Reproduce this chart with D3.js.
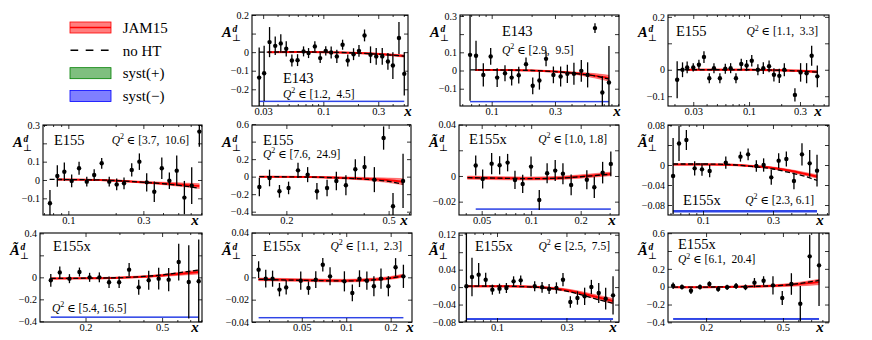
<!DOCTYPE html>
<html>
<head>
<meta charset="utf-8">
<script src="https://cdn.jsdelivr.net/npm/d3@7"></script>
<style>
body { margin: 0; background: #fff; }
svg text { font-family: "Liberation Serif", "DejaVu Serif", serif; }
</style>
</head>
<body>
<div id="chart"></div>
<script>
// chart size
var w = 872, h = 340;

// panel labels
var expNames = ["E143", "E143", "E155", "E155", "E155", "E155x", "E155x", "E155x", "E155x", "E155x", "E155x"];
var q2Ranges = ["[1.2,  4.5]", "[2.9,  9.5]", "[1.1,  3.3]", "[3.7,  10.6]", "[7.6,  24.9]", "[1.0, 1.8]",
                "[2.3, 6.1]", "[5.4, 16.5]", "[1.1,  2.3]", "[2.5,  7.5]", "[6.1,  20.4]"];
var tildeA = [false, false, false, false, false, true, true, true, true, true, true];

// axis limits and ticks
var xDomains = [[0.024, 0.544], [0.0577, 0.912], [0.0174, 0.561], [0.069, 0.708], [0.147, 0.611], [0.0364, 0.342],
                [0.0577, 0.723], [0.116, 0.806], [0.023, 0.279], [0.0548, 0.689], [0.127, 0.866]];
var yDomains = [[-0.29, 0.2], [-0.195, 0.305], [-0.137, 0.207], [-0.191, 0.3], [-0.438, 0.59], [-0.0304, 0.0397],
                [-0.1, 0.08], [-0.406, 0.403], [-0.04, 0.0397], [-0.08, 0.124], [-0.396, 0.602]];
var xTicks = [[0.03, 0.1, 0.3], [0.1, 0.3], [0.03, 0.1, 0.3], [0.1, 0.3], [0.2, 0.5], [0.05, 0.1, 0.2],
              [0.1, 0.3], [0.2, 0.5], [0.05, 0.1, 0.2], [0.1, 0.3], [0.2, 0.5]];
var yTicks = [[-0.2, -0.1, 0, 0.1, 0.2], [-0.1, 0, 0.1, 0.2, 0.3], [-0.1, 0, 0.1, 0.2], [-0.1, 0, 0.1, 0.2, 0.3],
              [-0.4, -0.2, 0, 0.2, 0.4, 0.6], [-0.02, 0, 0.02, 0.04], [-0.08, -0.04, 0, 0.04, 0.08],
              [-0.4, -0.2, 0, 0.2, 0.4], [-0.04, -0.02, 0, 0.02, 0.04], [-0.08, -0.04, 0, 0.04, 0.08, 0.12],
              [-0.4, -0.2, 0, 0.2, 0.4, 0.6]];
var yTickLabels = [["−0.2", "−0.1", "0", "", "0.2"], ["−0.1", "0", "0.1", "", "0.3"], ["−0.1", "0", "", "0.2"],
                   ["−0.1", "0", "0.1", "", "0.3"], ["−0.4", "−0.2", "0", "0.2", "", "0.6"], ["−0.02", "0", "", "0.04"],
                   ["−0.08", "−0.04", "0", "", "0.08"], ["−0.4", "−0.2", "0", "", "0.4"],
                   ["−0.04", "−0.02", "0", "", "0.04"], ["−0.08", "−0.04", "0", "0.04", "", "0.12"],
                   ["−0.4", "−0.2", "0", "0.2", "", "0.6"]];

// data points: [x, A, error]
var ptsE143a = [[0.0277,-0.137,0.162],[0.0306,-0.114,0.149],[0.0341,0.054,0.081],[0.0382,0.034,0.05],[0.0427,0.047,0.05],
  [0.0476,0.018,0.041],[0.0533,-0.045,0.032],[0.0597,-0.043,0.032],[0.0673,0.004,0.027],[0.0744,-0.005,0.027],
  [0.0844,0.031,0.027],[0.0939,-0.032,0.027],[0.105,0.007,0.025],[0.117,-0.002,0.032],[0.131,-0.023,0.036],
  [0.147,0.04,0.027],[0.163,-0.045,0.032],[0.183,-0.011,0.032],[0.204,0.007,0.032],[0.228,0.09,0.032],
  [0.257,-0.014,0.045],[0.288,-0.023,0.045],[0.325,-0.023,0.045],[0.364,-0.05,0.045],[0.402,-0.072,0.072],
  [0.454,0.076,0.086],[0.505,-0.117,0.117]];
var ptsE143b = [[0.0687,0.086,0.252],[0.0762,0.081,0.083],[0.0865,-0.024,0.064],[0.0983,0.077,0.046],[0.110,-0.039,0.052],
  [0.126,-0.015,0.044],[0.1415,-0.039,0.044],[0.160,-0.026,0.046],[0.1815,0.035,0.037],[0.204,-0.084,0.046],
  [0.229,-0.055,0.05],[0.257,0.064,0.041],[0.292,-0.024,0.046],[0.331,-0.033,0.055],[0.372,-0.018,0.05],
  [0.417,-0.018,0.06],[0.474,-0.002,0.06],[0.529,-0.024,0.069],[0.601,0.233,0.027],[0.683,-0.121,0.09],
  [0.766,-0.066,0.2]];
var ptsE155a = [[0.0212,-0.038,0.07],[0.0238,0,0.028],[0.0263,0.009,0.022],[0.03,0.009,0.016],[0.0339,0.019,0.019],
  [0.0378,0.048,0.022],[0.0424,-0.032,0.019],[0.0469,0.006,0.019],[0.0533,-0.032,0.019],[0.0599,0.004,0.019],
  [0.0672,0.006,0.019],[0.0754,-0.032,0.019],[0.0845,0.022,0.02],[0.0949,0.016,0.021],[0.106,0.034,0.022],
  [0.121,0,0.021],[0.136,0.006,0.022],[0.154,0.013,0.022],[0.171,-0.019,0.025],[0.192,-0.023,0.027],
  [0.214,0,0.025],[0.269,-0.095,0.025],[0.304,-0.01,0.035],[0.346,-0.013,0.038],[0.386,0.053,0.038],
  [0.436,-0.025,0.041]];
var ptsE155b = [[0.0764,-0.127,0.073],[0.0851,0.022,0.059],[0.0943,0.045,0.05],[0.105,-0.005,0.035],[0.117,0.064,0.036],
  [0.131,-0.009,0.027],[0.146,0.027,0.032],[0.163,0.091,0.029],[0.182,-0.009,0.027],[0.203,-0.024,0.032],
  [0.226,-0.018,0.032],[0.253,0.055,0.036],[0.283,0.10,0.045],[0.315,-0.013,0.05],[0.352,-0.064,0.056],
  [0.393,0.064,0.059],[0.439,-0.004,0.045],[0.489,0.051,0.082],[0.547,-0.096,0.091],[0.609,-0.031,0.10],
  [0.681,0.264,0.082]];
var ptsE155c = [[0.157,-0.118,0.105],[0.172,-0.015,0.095],[0.188,-0.167,0.072],[0.204,-0.129,0.072],[0.222,0.072,0.086],
  [0.242,0.023,0.086],[0.263,-0.167,0.095],[0.288,-0.129,0.095],[0.313,-0.049,0.105],[0.341,-0.099,0.114],
  [0.371,0.084,0.114],[0.403,0.11,0.124],[0.44,-0.034,0.143],[0.478,0.441,0.133],[0.52,-0.338,0.152],
  [0.569,-0.049,0.31]];
var ptsE155xa = [[0.046,0.0081,0.0078],[0.0507,-0.0023,0.0074],[0.0575,0.0096,0.0082],[0.0643,0.0083,0.0071],
  [0.0719,0.0104,0.0068],[0.0797,-0.0031,0.0071],[0.0888,-0.0062,0.0071],[0.0998,0.0073,0.0078],
  [0.112,-0.0187,0.0078],[0.125,0.0021,0.0078],[0.14,0.0042,0.0082],[0.156,0.0018,0.0082],[0.175,-0.007,0.0081],
  [0.218,-0.0029,0.0074],[0.242,-0.0088,0.0084],[0.272,0.0026,0.0084],[0.305,0.0094,0.0097]];
var ptsE155xb = [[0.0625,-0.022,0.076],[0.0686,0.043,0.035],[0.077,0.05,0.02],[0.0877,-0.0067,0.0143],
  [0.0984,-0.0087,0.0127],[0.111,-0.012,0.0123],[0.143,0.0047,0.0123],[0.18,0.0167,0.01],[0.203,0.0213,0.0117],
  [0.231,-0.002,0.0117],[0.259,0,0.0133],[0.292,-0.0247,0.015],[0.328,0.0087,0.015],[0.37,0.012,0.015],
  [0.417,-0.032,0.0167],[0.473,0.0213,0.0223],[0.534,0.0033,0.0267],[0.599,-0.0113,0.0317]];
var ptsE155xc = [[0.132,-0.027,0.058],[0.147,0.045,0.053],[0.165,-0.012,0.041],[0.186,0.048,0.041],[0.21,0,0.041],
  [0.236,0,0.045],[0.265,-0.045,0.053],[0.299,-0.045,0.053],[0.337,0.07,0.061],[0.378,-0.091,0.068],
  [0.426,-0.027,0.086],[0.48,-0.012,0.098],[0.541,-0.021,0.106],[0.61,0.139,0.167],[0.688,-0.042,0.333],
  [0.775,-0.036,0.379]];
var ptsE155xd = [[0.0255,0.0069,0.0075],[0.0285,-0.0012,0.0079],[0.0317,-0.0012,0.0072],[0.0353,-0.011,0.006],
  [0.0392,-0.009,0.0063],[0.0492,-0.003,0.0082],[0.0555,-0.0096,0.006],[0.0622,-0.0021,0.0075],[0.0694,0.0113,0.006],
  [0.0777,0.0009,0.0081],[0.0972,-0.0036,0.009],[0.11,-0.014,0.0075],[0.123,-0.0012,0.0075],[0.138,-0.003,0.0082],
  [0.154,-0.008,0.009],[0.172,-0.0012,0.009],[0.193,-0.008,0.009],[0.216,0.009,0.0082],[0.244,0.0009,0.0104]];
var ptsE155xe = [[0.0616,0.002,0.25],[0.0673,0.0232,0.044],[0.0748,0.0285,0.0268],[0.0836,0.017,0.016],
  [0.0929,-0.0059,0.0115],[0.104,-0.0036,0.0115],[0.116,-0.0021,0.0115],[0.13,0.0132,0.0115],[0.1455,0.0155,0.011],
  [0.1815,0.0018,0.0115],[0.204,-0.0005,0.0122],[0.228,-0.0044,0.0115],[0.256,-0.0021,0.013],[0.284,0.017,0.0153],
  [0.319,-0.0342,0.0134],[0.357,-0.025,0.0153],[0.4,-0.0212,0.0199],[0.445,0.0002,0.0164],[0.5,-0.0135,0.0229],
  [0.558,-0.0265,0.0248],[0.627,-0.0189,0.044]];
var ptsE155xf = [[0.135,0.011,0.037],[0.15,-0.004,0.028],[0.167,-0.045,0.037],[0.186,-0.004,0.028],[0.208,0.03,0.03],
  [0.231,-0.026,0.03],[0.257,-0.007,0.03],[0.286,0.007,0.034],[0.32,-0.007,0.032],[0.356,0.045,0.052],
  [0.397,0.067,0.05],[0.444,0.015,0.103],[0.496,-0.127,0.079],[0.553,0.03,0.121],[0.615,-0.191,0.2],
  [0.688,0.34,0.243],[0.769,0.239,0.456]];
var points = [ptsE143a, ptsE143b, ptsE155a, ptsE155b, ptsE155c, ptsE155xa, ptsE155xb, ptsE155xc, ptsE155xd, ptsE155xe, ptsE155xf];

// JAM15 fit: [x, central, half width]
var thJam = [
  [[0.033,0,0.002],[0.06,0.001,0.002],[0.1,0,0.002],[0.2,-0.005,0.003],[0.3,-0.01,0.004],[0.505,-0.021,0.006]],
  [[0.075,0.003,0.002],[0.1,0.003,0.002],[0.2,0,0.003],[0.3,-0.006,0.004],[0.45,-0.017,0.007],[0.6,-0.029,0.012],[0.766,-0.042,0.016]],
  [[0.026,0,0.002],[0.05,0,0.002],[0.1,0,0.002],[0.2,-0.002,0.003],[0.3,-0.004,0.003],[0.436,-0.008,0.004]],
  [[0.085,0.003,0.002],[0.16,0,0.003],[0.26,-0.009,0.004],[0.42,-0.02,0.007],[0.55,-0.027,0.01],[0.68,-0.033,0.013]],
  [[0.157,0,0.003],[0.25,-0.004,0.006],[0.31,-0.011,0.01],[0.41,-0.025,0.016],[0.5,-0.042,0.026],[0.569,-0.058,0.035]],
  [[0.041,-0.0013,0.0012],[0.07,-0.0018,0.0012],[0.1,-0.002,0.0012],[0.15,-0.0015,0.0012],[0.2,-0.0004,0.0013],[0.305,0.0016,0.0014]],
  [[0.0625,0.001,0.0012],[0.1,0.0012,0.0012],[0.15,0.0005,0.0015],[0.2,-0.0015,0.0015],[0.3,-0.006,0.002],[0.4,-0.012,0.0025],[0.5,-0.018,0.003],[0.6,-0.023,0.0035]],
  [[0.132,-0.01,0.005],[0.2,-0.008,0.005],[0.3,-0.003,0.006],[0.4,0.006,0.008],[0.5,0.017,0.01],[0.6,0.03,0.013],[0.775,0.048,0.018]],
  [[0.0255,-0.0018,0.0012],[0.05,-0.0025,0.0012],[0.1,-0.003,0.0012],[0.15,-0.002,0.0012],[0.2,-0.0005,0.0013],[0.244,0.0015,0.0014]],
  [[0.062,0.002,0.0015],[0.1,0.002,0.0015],[0.15,0.0012,0.0018],[0.2,-0.0005,0.002],[0.3,-0.007,0.003],[0.4,-0.016,0.004],[0.5,-0.024,0.005],[0.627,-0.032,0.006]],
  [[0.135,-0.006,0.005],[0.2,-0.005,0.005],[0.3,0,0.007],[0.4,0.006,0.01],[0.5,0.015,0.014],[0.6,0.028,0.02],[0.77,0.052,0.03]]
];
// no higher twist curves: [x, value]
var thNoHT = [
  [[0.0277,0],[0.06,0.001],[0.1,0],[0.2,-0.005],[0.3,-0.011],[0.505,-0.021]],
  [[0.069,0.003],[0.1,0.003],[0.2,0],[0.3,-0.006],[0.45,-0.018],[0.6,-0.03],[0.766,-0.047]],
  [[0.0212,0],[0.05,0],[0.1,0],[0.2,-0.002],[0.3,-0.005],[0.436,-0.009]],
  [[0.076,0.003],[0.16,0],[0.26,-0.009],[0.42,-0.022],[0.55,-0.033],[0.68,-0.045]],
  [[0.157,0],[0.25,-0.005],[0.31,-0.013],[0.41,-0.03],[0.5,-0.055],[0.569,-0.085]],
  [[0.041,-0.0013],[0.07,-0.0018],[0.1,-0.0021],[0.15,-0.0017],[0.2,-0.0006],[0.305,0.0014]],
  [[0.0625,0.002],[0.1,0.002],[0.15,0.001],[0.2,-0.002],[0.3,-0.008],[0.4,-0.016],[0.5,-0.023],[0.6,-0.031]],
  [[0.132,-0.01],[0.2,-0.008],[0.3,-0.003],[0.4,0.008],[0.5,0.022],[0.6,0.04],[0.775,0.066]],
  [[0.0255,-0.0018],[0.05,-0.0027],[0.1,-0.0032],[0.15,-0.0024],[0.2,-0.0006],[0.244,0.0012]],
  [[0.062,0.0022],[0.1,0.0022],[0.15,0.001],[0.2,-0.001],[0.3,-0.009],[0.4,-0.02],[0.5,-0.029],[0.627,-0.037]],
  [[0.135,-0.006],[0.3,0],[0.5,0.016],[0.6,0.035],[0.77,0.07]]
];
// syst(-) band level and height
var systY = [-0.261, -0.167, null, null, null, -0.0252, -0.09, -0.355, -0.0355, -0.0709, -0.351];
var systH = [0.008, 0.008, 0, 0, 0, 0.0012, 0.005, 0.014, 0.0013, 0.0045, 0.022];

// layout: frame [left, top, right, bottom] in px
var frames = [[252,15,408,106],[460,15,619,106],[668,15,829,106],
  [43,125,202,215],[252,125,411,215],[459,125,619,215],[668,125,829,215],
  [40,233,202,322],[252,233,412,322],[459,233,619,322],[668,233,829,322]];
// experiment label [x, y], Q2 label [x, y, anchor]
var expPos = [[283,83],[502,36],[676,36],[54,144.5],[263,144.5],[469,143.5],[683,204.5],[53,250.5],[263,250.5],[475,250.5],[678,249]];
var q2Pos = [[283,97.5,"start"],[502,53.5,"start"],[818,35,"end"],[189,143.5,"end"],[263,157.5,"start"],[607,142.5,"end"],
  [814,203.5,"end"],[52,311.5,"start"],[402,249.5,"end"],[610,249.5,"end"],[678,263,"start"]];
var xlabOff = [0, -2, -11, -7, -7, -7, -9, -7, -2, -6, -9];

var svg = d3.select("#chart").append("svg")
  .attr("width", w)
  .attr("height", h);

function fmtTicks(axisG, size) {
  axisG.select(".domain").remove();
  axisG.attr("font-family", null).attr("font-size", null);
  axisG.selectAll("text").attr("font-size", size).attr("fill", "#000");
  axisG.selectAll("line").attr("stroke", "#000").attr("stroke-width", 0.8);
}

points.forEach(function(pts, i) {
  var f = frames[i];
  var x = d3.scaleLog().domain(xDomains[i]).range([f[0], f[2]]);
  var y = d3.scaleLinear().domain(yDomains[i]).range([f[3], f[1]]);
  var g = svg.append("g");

  svg.append("clipPath").attr("id", "clip" + i)
    .append("rect")
    .attr("x", f[0]).attr("y", f[1])
    .attr("width", f[2] - f[0]).attr("height", f[3] - f[1]);
  var inner = g.append("g").attr("clip-path", "url(#clip" + i + ")");

  // syst(-) band
  if (systY[i] !== null) {
    inner.append("rect")
      .attr("x", x(pts[0][0]))
      .attr("width", x(pts[pts.length - 1][0]) - x(pts[0][0]))
      .attr("y", y(systY[i]))
      .attr("height", Math.max(1.2, y(systY[i] - systH[i]) - y(systY[i])))
      .attr("fill", "#2f45e6");
  }

  // JAM15 band
  var area = d3.area()
    .x(function(d) { return x(d[0]); })
    .y0(function(d) { return y(d[1] - d[2]); })
    .y1(function(d) { return y(d[1] + d[2]); })
    .curve(d3.curveMonotoneX);
  var mid = d3.line()
    .x(function(d) { return x(d[0]); })
    .y(function(d) { return y(d[1]); })
    .curve(d3.curveMonotoneX);
  inner.append("path").datum(thJam[i]).attr("d", area)
    .attr("fill", "#ff0000").attr("fill-opacity", 0.5)
    .attr("stroke", "#ff0000").attr("stroke-opacity", 0.6).attr("stroke-width", 0.6);
  inner.append("path").datum(thJam[i]).attr("d", mid)
    .attr("fill", "none").attr("stroke", "#ff0000").attr("stroke-width", 2);
  inner.append("path").datum(thNoHT[i]).attr("d", mid)
    .attr("fill", "none").attr("stroke", "#000").attr("stroke-width", 1.3)
    .attr("stroke-dasharray", "5,2.5");

  // data with error bars
  inner.selectAll("line.err").data(pts).join("line")
    .attr("class", "err")
    .attr("x1", function(d) { return x(d[0]); })
    .attr("x2", function(d) { return x(d[0]); })
    .attr("y1", function(d) { return y(d[1] - d[2]); })
    .attr("y2", function(d) { return y(d[1] + d[2]); })
    .attr("stroke", "#000").attr("stroke-width", 1.3);
  inner.selectAll("circle").data(pts).join("circle")
    .attr("cx", function(d) { return x(d[0]); })
    .attr("cy", function(d) { return y(d[1]); })
    .attr("r", 2.2)
    .attr("fill", "#000");

  // minor log ticks
  var minor = [];
  var lo = Math.floor(Math.log10(xDomains[i][0])), hi = Math.ceil(Math.log10(xDomains[i][1]));
  for (var e = lo; e < hi; e++) {
    for (var m = 1; m < 10; m++) {
      var v = m * Math.pow(10, e);
      var isMajor = xTicks[i].some(function(t) { return Math.abs(t - v) < 1e-9; });
      if (v > xDomains[i][0] && v < xDomains[i][1] && !isMajor) minor.push(v);
    }
  }

  var yt = yTicks[i], ytl = yTickLabels[i];
  var bot = g.append("g").attr("transform", "translate(0," + f[3] + ")")
    .call(d3.axisBottom(x).tickValues(xTicks[i]).tickFormat(function(d) { return String(d); })
      .tickSizeInner(-4).tickSizeOuter(0).tickPadding(2));
  fmtTicks(bot, 10.5);
  var top = g.append("g").attr("transform", "translate(0," + f[1] + ")")
    .call(d3.axisTop(x).tickValues(xTicks[i]).tickFormat("").tickSizeInner(-4).tickSizeOuter(0));
  fmtTicks(top, 10);
  [f[3], f[1]].forEach(function(yy, k) {
    var mg = g.append("g").attr("transform", "translate(0," + yy + ")")
      .call((k === 0 ? d3.axisBottom(x) : d3.axisTop(x)).tickValues(minor).tickFormat("").tickSizeInner(-2).tickSizeOuter(0));
    fmtTicks(mg, 10);
  });
  var left = g.append("g").attr("transform", "translate(" + f[0] + ",0)")
    .call(d3.axisLeft(y).tickValues(yt).tickFormat(function(d, k) { return ytl[k]; })
      .tickSizeInner(-4).tickSizeOuter(0).tickPadding(3));
  fmtTicks(left, 10);
  var right = g.append("g").attr("transform", "translate(" + f[2] + ",0)")
    .call(d3.axisRight(y).tickValues(yt).tickFormat("").tickSizeInner(-4).tickSizeOuter(0));
  fmtTicks(right, 10);

  // frame
  g.append("rect")
    .attr("x", f[0]).attr("y", f[1])
    .attr("width", f[2] - f[0]).attr("height", f[3] - f[1])
    .attr("fill", "none").attr("stroke", "#000").attr("stroke-width", 1.1);

  // y label  A^d_perp
  var lx = f[0] - 30, ly = f[1] + 22;
  g.append("text").attr("x", lx).attr("y", ly)
    .attr("font-size", 14.5).attr("font-weight", "bold").attr("font-style", "italic")
    .text(tildeA[i] ? "\u00C3" : "A");
  g.append("text").attr("x", lx + 10.5).attr("y", ly - 5.5)
    .attr("font-size", 9.5).attr("font-weight", "bold").attr("font-style", "italic")
    .text("d");
  g.append("text").attr("x", lx + 10).attr("y", ly + 4)
    .attr("font-size", 9.5)
    .text("\u22A5");

  // x label
  g.append("text")
    .attr("x", f[2] + xlabOff[i]).attr("y", f[3] + 10)
    .attr("text-anchor", "middle")
    .attr("font-family", "DejaVu Serif")
    .attr("font-size", 15).attr("font-weight", "bold").attr("font-style", "italic")
    .text("x");

  // experiment and Q2 labels
  g.append("text").attr("x", expPos[i][0]).attr("y", expPos[i][1])
    .attr("font-size", 14.5).text(expNames[i]);
  var qt = g.append("text").attr("x", q2Pos[i][0]).attr("y", q2Pos[i][1])
    .attr("text-anchor", q2Pos[i][2]).attr("font-size", 11.5).attr("xml:space", "preserve");
  qt.append("tspan").attr("font-style", "italic").text("Q");
  qt.append("tspan").attr("dy", -4.5).attr("font-size", 8).text("2");
  qt.append("tspan").attr("dy", 4.5).text(" \u2208 " + q2Ranges[i]);
});

// legend
var legNames = ["JAM15", "no HT", "syst(+)", "syst(\u2212)"];
var legFill = ["rgba(255,0,0,0.5)", null, "rgba(0,128,0,0.5)", "rgba(0,0,255,0.5)"];
var legStroke = ["#ff0000", "#000", "#008000", "#0000ff"];
var legY = d3.scalePoint().domain(d3.range(4)).range([27.5, 96]);
var leg = svg.append("g");
legNames.forEach(function(name, k) {
  var cy = legY(k);
  if (legFill[k]) {
    leg.append("rect").attr("x", 70).attr("y", cy - 5.5).attr("width", 41).attr("height", 11)
      .attr("fill", legFill[k]).attr("stroke", legStroke[k]).attr("stroke-width", 0.8);
    if (k === 0) {
      leg.append("line").attr("x1", 70).attr("x2", 111).attr("y1", cy).attr("y2", cy)
        .attr("stroke", "#ff0000").attr("stroke-width", 1.5);
    }
  } else {
    leg.append("line").attr("x1", 70.5).attr("x2", 111).attr("y1", cy).attr("y2", cy)
      .attr("stroke", "#000").attr("stroke-width", 1.5).attr("stroke-dasharray", "7.7,7.5");
  }
  leg.append("text").attr("x", 122.7).attr("y", cy + 5.3)
    .attr("font-size", 15).text(name);
});
</script>
</body>
</html>
